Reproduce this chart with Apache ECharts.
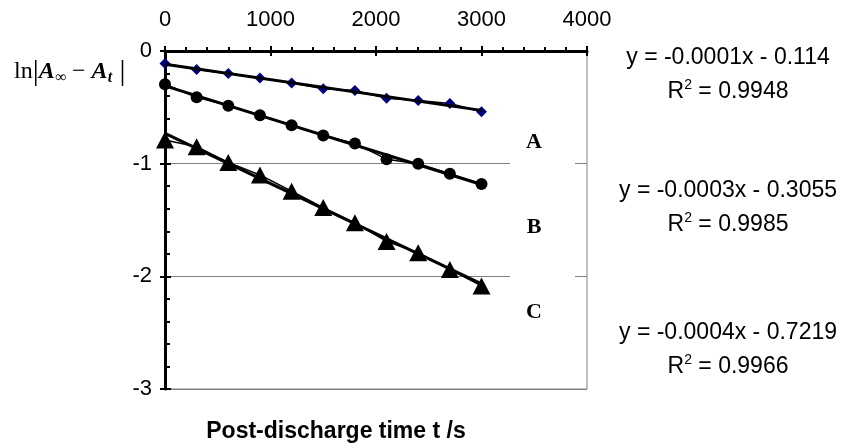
<!DOCTYPE html>
<html>
<head>
<meta charset="utf-8">
<script src="https://cdn.jsdelivr.net/npm/echarts@6/dist/echarts.min.js"></script>
<style>
  html, body { margin: 0; padding: 0; background: #fff; }
  #container { width: 850px; height: 448px; }
</style>
</head>
<body>
<div id="container"></div>
<script>
// post-discharge time, s
var times = [0, 300, 600, 900, 1200, 1500, 1800, 2100, 2400, 2700, 3000];
// ln|A_inf - A_t|
var seriesA = [-0.11, -0.165, -0.20, -0.24, -0.285, -0.335, -0.35, -0.42, -0.44, -0.465, -0.54];
var seriesB = [-0.295, -0.41, -0.485, -0.57, -0.66, -0.75, -0.82, -0.96, -1.0, -1.09, -1.18];
var seriesC = [-0.79, -0.85, -0.99, -1.10, -1.245, -1.39, -1.525, -1.69, -1.79, -1.94, -2.085];
var trendText = [
	['y = -0.0001x - 0.114', '0.9948'],
	['y = -0.0003x - 0.3055', '0.9985'],
	['y = -0.0004x - 0.7219', '0.9966']
];
var curveNames = ['A', 'B', 'C'];

function pairs(ys) {
	var arr = [];
	for (var i = 0; i < times.length; ++i) arr.push([times[i], ys[i]]);
	return arr;
}

// least squares line through the points, drawn over the first and last time
function fitLine(ys) {
	var n = times.length, sx = 0, sy = 0, sxx = 0, sxy = 0;
	for (var i = 0; i < n; ++i) {
		sx += times[i]; sy += ys[i];
		sxx += times[i] * times[i]; sxy += times[i] * ys[i];
	}
	var b = (n * sxy - sx * sy) / (n * sxx - sx * sx);
	var a = (sy - b * sx) / n;
	var x0 = times[0], x1 = times[n - 1];
	return [[x0, a + b * x0], [x1, a + b * x1]];
}

var myChart = echarts.init(document.getElementById('container'));

function dataSeries(name, ys, symbol, size, color) {
	return {
		name: name,
		type: 'line',
		data: pairs(ys),
		symbol: symbol,
		symbolSize: size,
		showSymbol: true,
		itemStyle: { color: color, borderWidth: 0 },
		lineStyle: { color: '#000', width: 1.5 },
		z: 3,
		animation: false
	};
}
function trendSeries(ys) {
	return {
		type: 'line',
		data: fitLine(ys),
		symbol: 'none',
		lineStyle: { color: '#000', width: 3 },
		z: 4,
		silent: true,
		animation: false
	};
}

var labelFont = 'Liberation Sans, Arial, sans-serif';
var serif = 'Liberation Serif, Times New Roman, serif';
var graphics = [
	{ type: 'rect', z: 100, shape: { x: 510, y: 150, width: 65, height: 20 }, style: { fill: '#fff' } },
	{ type: 'rect', z: 100, shape: { x: 510, y: 265, width: 65, height: 20 }, style: { fill: '#fff' } },
	{
		type: 'text', z: 100, x: 14, y: 72,
		style: {
			text: '{r|ln}{bar||}{b|A}{s|∞}{r| − }{b|A}{s|t}{bar| |}',
			verticalAlign: 'middle',
			rich: {
				r: { fontFamily: serif, fontSize: 24, fill: '#000' },
				bar: { fontFamily: serif, fontSize: 30, fill: '#000' },
				b: { fontFamily: serif, fontSize: 24, fontWeight: 'bold', fontStyle: 'italic', fill: '#000' },
				s: { fontFamily: serif, fontSize: 16, fontWeight: 'bold', fontStyle: 'italic', fill: '#000', padding: [12, 0, 0, 0] }
			}
		}
	},
	{
		type: 'text', x: 336, y: 432, z: 100,
		style: { text: 'Post-discharge time t /s', font: 'bold 23px ' + labelFont, fill: '#000', align: 'center', verticalAlign: 'middle' }
	}
];
var eqY = [58, 191, 333];
var nameY = [142, 227, 312];
for (var k = 0; k < 3; ++k) {
	graphics.push({
		type: 'text', z: 100, x: 728, y: eqY[k],
		style: { text: trendText[k][0], font: '23px ' + labelFont, fill: '#000', align: 'center', verticalAlign: 'middle' }
	});
	graphics.push({
		type: 'text', z: 100, x: 728, y: eqY[k] + 34,
		style: {
			text: '{n|R}{p|2}{n| = ' + trendText[k][1] + '}',
			align: 'center', verticalAlign: 'middle',
			rich: {
				n: { font: '23px ' + labelFont, fill: '#000' },
				p: { font: '14px ' + labelFont, fill: '#000', padding: [0, 0, 14, 0] }
			}
		}
	});
	graphics.push({
		type: 'text', z: 100, x: 534, y: nameY[k],
		style: { text: curveNames[k], font: 'bold 22px ' + serif, fill: '#000', align: 'center', verticalAlign: 'middle' }
	});
}

var option = {
	backgroundColor: '#fff',
	animation: false,
	grid: {
		left: 165, top: 51, right: 263, bottom: 59,
		show: true, borderColor: '#808080', borderWidth: 1, backgroundColor: 'transparent'
	},
	xAxis: [
		{
			type: 'value', position: 'top', min: 0, max: 4000, interval: 1000,
			axisLine: { show: true, onZero: false, lineStyle: { color: '#000', width: 3 } },
			axisTick: { show: true, inside: false, length: 5, lineStyle: { color: '#000', width: 2 } },
			minorTick: { show: true, splitNumber: 5, length: 4, lineStyle: { color: '#000', width: 2 } },
			axisLabel: { color: '#000', fontSize: 22, fontFamily: labelFont, margin: 20, formatter: function(v) { return String(v); } },
			splitLine: { show: false }
		},
		{
			type: 'value', position: 'top', min: 0, max: 4000, interval: 1000,
			axisLine: { show: false },
			axisTick: { show: true, inside: true, length: 5, lineStyle: { color: '#000', width: 2 } },
			axisLabel: { show: false },
			splitLine: { show: false }
		}
	],
	yAxis: [
		{
			type: 'value', min: -3, max: 0, interval: 1,
			axisLine: { show: true, onZero: false, lineStyle: { color: '#000', width: 3 } },
			axisTick: { show: true, inside: true, length: 6, lineStyle: { color: '#000', width: 2 } },
			minorTick: { show: true, splitNumber: 5, length: 5, lineStyle: { color: '#000', width: 2 } },
			axisLabel: { color: '#000', fontSize: 22, fontFamily: labelFont, margin: 13 },
			splitLine: { show: true, lineStyle: { color: '#808080', width: 1 } }
		},
		{
			type: 'value', position: 'left', min: -3, max: 0, interval: 1,
			axisLine: { show: false },
			axisTick: { show: true, inside: false, length: 5, lineStyle: { color: '#000', width: 2 } },
			axisLabel: { show: false },
			splitLine: { show: false }
		}
	],
	series: [
		dataSeries('A', seriesA, 'diamond', 11, '#000080'),
		dataSeries('B', seriesB, 'circle', 12, '#000'),
		dataSeries('C', seriesC, 'triangle', [18, 17], '#000'),
		trendSeries(seriesA),
		trendSeries(seriesB),
		trendSeries(seriesC)
	],
	graphic: graphics
};
myChart.setOption(option);
</script>
</body>
</html>
